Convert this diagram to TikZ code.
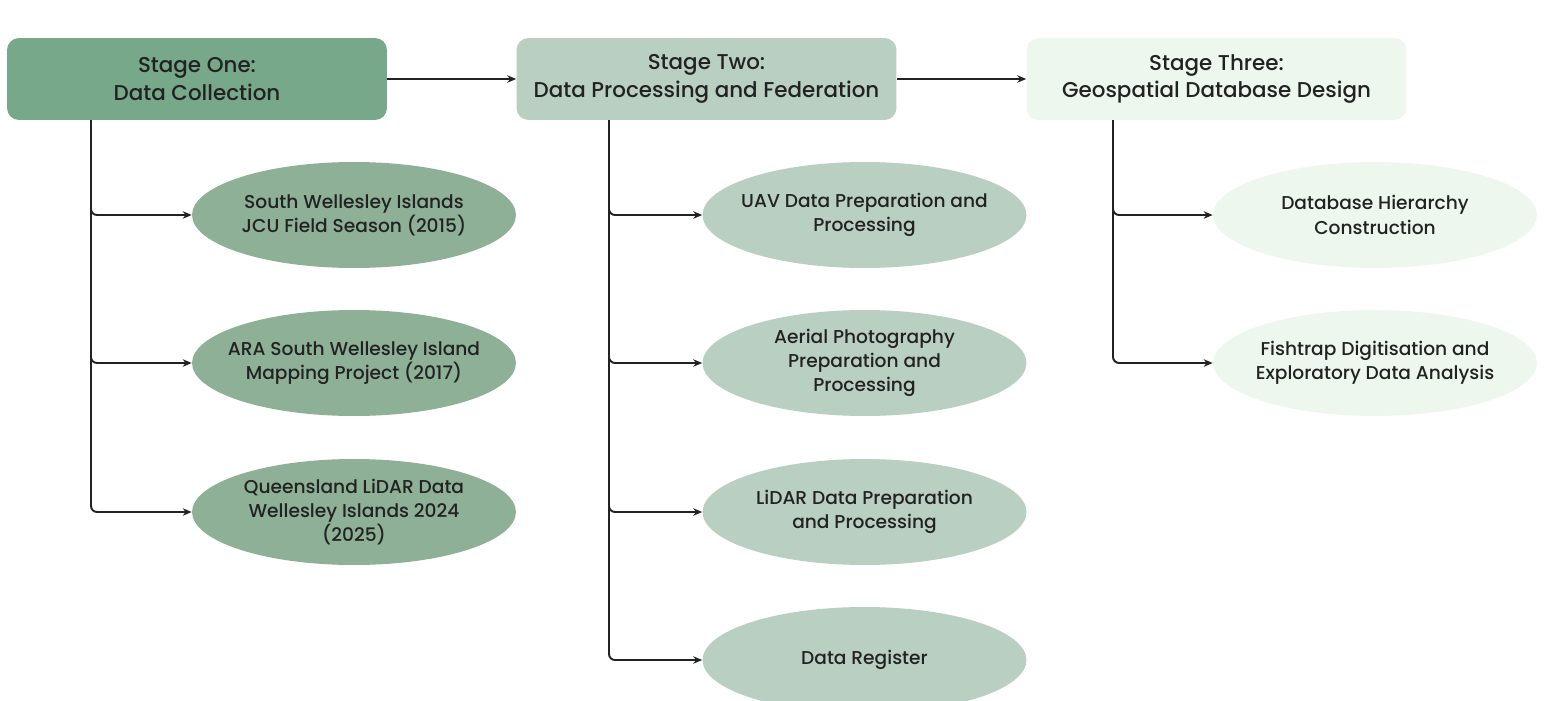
\documentclass[tikz,border=0pt]{standalone}
\usepackage{fontspec}
\setmainfont{Poppins}[UprightFont=* Medium]
\usetikzlibrary{shapes.geometric,arrows.meta}

\definecolor{stageone}{HTML}{78A88A}
\definecolor{leafone}{HTML}{8DB096}
\definecolor{stagetwo}{HTML}{B9CFC1}
\definecolor{stagethree}{HTML}{EEF7EE}
\definecolor{ink}{HTML}{222222}

\tikzset{
  stagebox/.style={rounded corners=2.4mm, minimum width=7.6cm, minimum height=1.64cm, align=center, text=ink, font=\fontsize{12.2}{15.6}\selectfont},
  leaf/.style={ellipse, minimum width=6.48cm, minimum height=2.12cm, inner xsep=-8mm, inner ysep=-1mm, align=center, text=ink, font=\fontsize{10.6}{13.8}\selectfont},
  link/.style={-{Stealth[length=1.8mm,width=1.5mm]}, line width=1.1pt, draw=ink, rounded corners=1.2mm},
}

\begin{document}
\begin{tikzpicture}[x=0.02cm, y=-0.02cm]
		\useasboundingbox (0,0) rectangle (1558,700);

		% stages
		\node[stagebox, fill=stageone] (s1) at (197,79) {Stage One:\\Data Collection};
		\node[stagebox, fill=stagetwo] (s2) at (706.5,79) {Stage Two:\\Data Processing and Federation};
		\node[stagebox, fill=stagethree] (s3) at (1216.5,79) {Stage Three:\\Geospatial Database Design};

		\draw[link] (s1) -- (s2);
		\draw[link] (s2) -- (s3);

		% stage one
		\node[leaf, fill=leafone] (a1) at (354,215) {South Wellesley Islands\\JCU Field Season (2015)};
		\node[leaf, fill=leafone] (a2) at (354,363) {ARA South Wellesley Island\\Mapping Project (2017)};
		\node[leaf, fill=leafone] (a3) at (354,512) {Queensland LiDAR Data\\Wellesley Islands 2024\\(2025)};

		% stage two
		\node[leaf, fill=stagetwo] (b1) at (864.5,215) {UAV Data Preparation and\\Processing};
		\node[leaf, fill=stagetwo] (b2) at (864.5,363) {Aerial Photography\\Preparation and\\Processing};
		\node[leaf, fill=stagetwo] (b3) at (864.5,512) {LiDAR Data Preparation\\and Processing};
		\node[leaf, fill=stagetwo] (b4) at (864.5,660) {Data Register};

		% stage three
		\node[leaf, fill=stagethree] (c1) at (1375,215) {Database Hierarchy\\Construction};
		\node[leaf, fill=stagethree] (c2) at (1375,363) {Fishtrap Digitisation and\\Exploratory Data Analysis};

		\coordinate (t1) at (91,120);
		\coordinate (t2) at (609,120);
		\coordinate (t3) at (1113,120);

		\foreach \leaf in {a1,a2,a3}
			\draw[link] (t1) |- (\leaf.west);
		\foreach \leaf in {b1,b2,b3,b4}
			\draw[link] (t2) |- (\leaf.west);
		\foreach \leaf in {c1,c2}
			\draw[link] (t3) |- (\leaf.west);
	\end{tikzpicture}
\end{document}
